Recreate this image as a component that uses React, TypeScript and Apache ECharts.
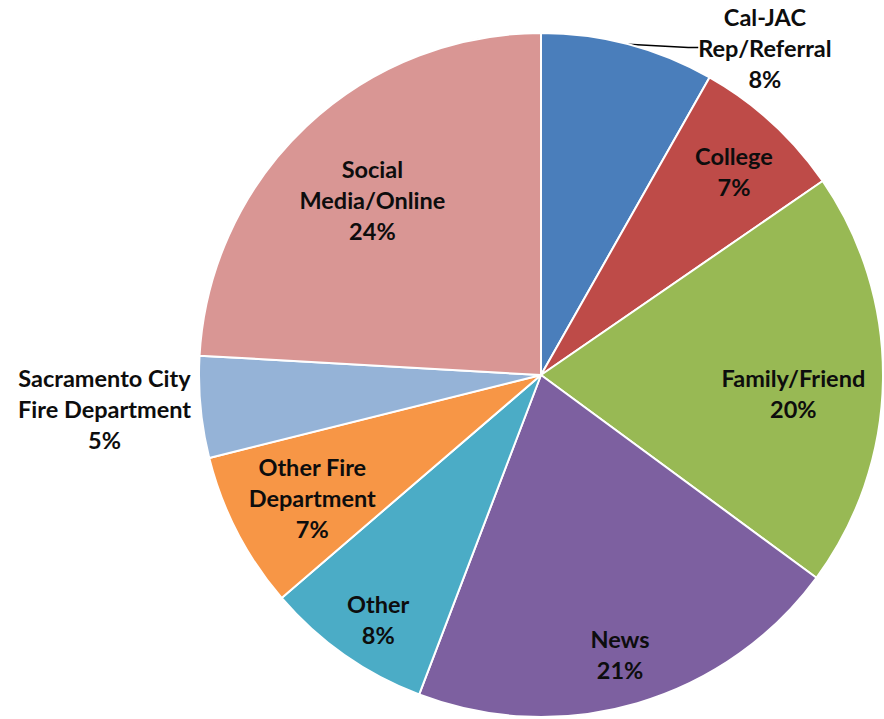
import React, { useEffect, useRef } from "react";
import * as echarts from "echarts";

const categories = [
  "Cal-JAC\nRep/Referral",
  "College",
  "Family/Friend",
  "News",
  "Other",
  "Other Fire\nDepartment",
  "Sacramento City\nFire Department",
  "Social\nMedia/Online",
];
const shares = [8.2, 7.2, 19.7, 20.7, 7.9, 7.4, 4.8, 24.1];
const colors = ["#4A7EBB", "#BE4B48", "#98B954", "#7D60A0", "#4BACC6", "#F79646", "#95B3D7", "#D99694"];
// label placement (fraction of radius, angular nudge in degrees)
const labelRadius = [1.16, 0.82, 0.74, 0.85, 0.86, 0.76, 1.28, 0.71];
const labelShift = [19.6, 1, 3.4, 0.6, -1.5, -1, 1, -0.6];
const outsideLabels = [0, 6];

const CX = 541;
const CY = 375;
const R = 342;

export default function App() {
  const ref = useRef<HTMLDivElement>(null);
  useEffect(() => {
    document.body.style.margin = "0";
    if (!ref.current) return;
    const chart = echarts.init(ref.current, undefined, { renderer: "svg" });
    const total = shares.reduce((a, b) => a + b, 0);
    const data = categories.map((name, i) => ({
      name,
      value: shares[i],
      itemStyle: { color: colors[i] },
      label: { position: outsideLabels.includes(i) ? "outside" : "inside" },
      labelLine: { show: i === 0 },
    }));
    chart.setOption({
      animation: false,
      backgroundColor: "#ffffff",
      series: [
        {
          type: "pie",
          center: [CX, CY],
          radius: R,
          startAngle: 90,
          clockwise: true,
          data,
          itemStyle: { borderColor: "#ffffff", borderWidth: 2 },
          emphasis: { disabled: true },
          label: {
            show: true,
            fontFamily: "Lato",
            fontWeight: "bold",
            fontSize: 23.5,
            lineHeight: 31,
            color: "#0d0d0d",
            align: "center",
            overflow: "none",
            edgeDistance: 0,
            formatter: (p: any) => `${p.name}\n${Math.round((p.value / total) * 100)}%`,
          },
          labelLine: {
            show: true,
            length: 10,
            length2: 10,
            lineStyle: { color: "#000000", width: 1.5 },
          },
          labelLayout: (params: any) => {
            const i = params.dataIndex;
            let before = 0;
            for (let k = 0; k < i; k++) before += shares[k];
            const deg = ((before + shares[i] / 2) / total) * 360 + labelShift[i];
            const rad = (deg * Math.PI) / 180;
            return {
              x: CX + labelRadius[i] * R * Math.sin(rad),
              y: CY - labelRadius[i] * R * Math.cos(rad),
              align: "center",
              verticalAlign: "middle",
            };
          },
        },
      ],
    });
    return () => chart.dispose();
  }, []);
  return <div ref={ref} style={{ width: 884, height: 719 }} />;
}
